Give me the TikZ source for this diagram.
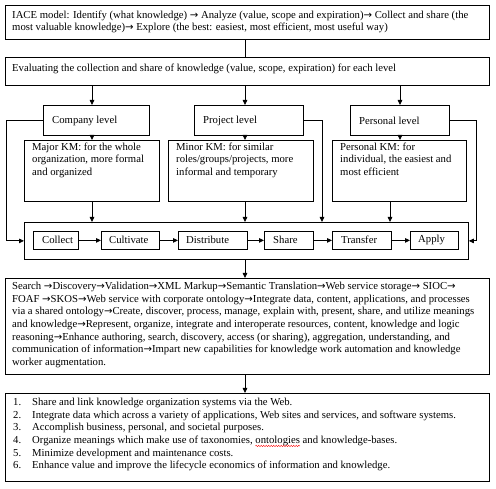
\documentclass[tikz,border=0pt]{standalone}
\usepackage{fontspec}
\setmainfont{Liberation Serif}
\newfontfamily\arfont{DejaVu Sans}[Scale=0.95]
\newcommand\ra{{\arfont →}}
\usetikzlibrary{arrows.meta,decorations.pathmorphing}
\newcommand\redwave[1]{\tikz[baseline=(w.base)]{\node[inner sep=0pt,outer sep=0pt](w){#1};\draw[overlay,red,line width=0.4pt,decorate,decoration={snake,amplitude=0.7pt,segment length=2.5pt}]([yshift=-2.4pt]w.base west)--([yshift=-2.4pt]w.base east);}}
\begin{document}
\begin{tikzpicture}[x=1pt,y=-1pt,
  box/.style={draw, line width=0.8pt, inner sep=0pt, anchor=north west},
  txt/.style={inner sep=0pt, align=left, font=\fontsize{10.7}{12.65}\selectfont},
  arr/.style={-{Triangle[length=5pt,width=4.5pt]}, line width=0.8pt},
  lin/.style={line width=0.8pt}]
\useasboundingbox (0,0) rectangle (496,489);
\fill[white] (0,0) rectangle (496,489);
% boxes
\node[box, minimum width=484pt, minimum height=34pt] (b1) at (5,5) {};
\node[box, minimum width=484pt, minimum height=28pt] (b2) at (5,57) {};
\node[box, minimum width=106pt, minimum height=30pt] (comp) at (43,105) {};
\node[box, minimum width=109pt, minimum height=30pt] (proj) at (194,105) {};
\node[box, minimum width=99pt, minimum height=30pt] (pers) at (350,105) {};
\node[box, minimum width=135pt, minimum height=61pt] (major) at (24,140) {};
\node[box, minimum width=145pt, minimum height=61pt] (minor) at (168,140) {};
\node[box, minimum width=134pt, minimum height=61pt] (perskm) at (332,140) {};
\node[box, minimum width=444pt, minimum height=37pt] (proc) at (24,222) {};
\node[box, minimum width=45pt, minimum height=18pt] (collect) at (33,231) {};
\node[box, minimum width=58pt, minimum height=18pt] (cult) at (101,231) {};
\node[box, minimum width=69pt, minimum height=18pt] (dist) at (178,231) {};
\node[box, minimum width=49pt, minimum height=18pt] (share) at (264,231) {};
\node[box, minimum width=59pt, minimum height=18pt] (trans) at (332,231) {};
\node[box, minimum width=48pt, minimum height=18pt] (apply) at (410,231) {};
\node[box, minimum width=484pt, minimum height=96pt] (big) at (5,278) {};
\node[box, minimum width=484pt, minimum height=88pt] (list) at (5,393) {};
% texts
\node[txt, anchor=west] (t1) at (12,22) {IACE model: Identify (what knowledge) \ra{} Analyze (value, scope and expiration)\ra{} Collect and share (the\\most valuable knowledge)\ra{} Explore (the best: easiest, most efficient, most useful way)};
\node[txt, anchor=west] (t2) at (12,69) {Evaluating the collection and share of knowledge (value, scope, expiration) for each level};
\node[txt, anchor=west] (tc) at (52,121) {Company level};
\node[txt, anchor=west] (tp) at (203,121) {Project level};
\node[txt, anchor=west] (tq) at (359,121) {Personal level};
\node[txt, anchor=north west] (tma) at (32,142.5) {Major KM: for the whole\\organization, more formal\\and organized};
\node[txt, anchor=north west] (tmi) at (176,142.5) {Minor KM: for similar\\roles/groups/projects, more\\informal and temporary};
\node[txt, anchor=north west] (tpe) at (340,142.5) {Personal KM: for\\individual, the easiest and\\most efficient};
\node[txt, anchor=west] (x1) at (42,240) {Collect};
\node[txt, anchor=west] (x2) at (109,240) {Cultivate};
\node[txt, anchor=west] (x3) at (186,240) {Distribute};
\node[txt, anchor=west] (x4) at (273,240) {Share};
\node[txt, anchor=west] (x5) at (341,240) {Transfer};
\node[txt, anchor=west] (x6) at (418,240) {Apply};
\node[txt, anchor=north west] (tb) at (12,282) {Search \ra{}Discovery\ra{}Validation\ra{}XML Markup\ra{}Semantic Translation\ra{}Web service storage\ra{} SIOC\ra\\
FOAF \ra{}SKOS\ra{}Web service with corporate ontology\ra{}Integrate data, content, applications, and processes\\
via a shared ontology\ra{}Create, discover, process, manage, explain with, present, share, and utilize meanings\\
and knowledge\ra{}Represent, organize, integrate and interoperate resources, content, knowledge and logic\\
reasoning\ra{}Enhance authoring, search, discovery, access (or sharing), aggregation, understanding, and\\
communication of information\ra{}Impart new capabilities for knowledge work automation and knowledge\\
worker augmentation.};
\node[txt, anchor=north west] (tl) at (13,398) {\makebox[19pt][l]{1.}Share and link knowledge organization systems via the Web.\\
\makebox[19pt][l]{2.}Integrate data which across a variety of applications, Web sites and services, and software systems.\\
\makebox[19pt][l]{3.}Accomplish business, personal, and societal purposes.\\
\makebox[19pt][l]{4.}Organize meanings which make use of taxonomies, \redwave{ontologies} and knowledge-bases.\\
\makebox[19pt][l]{5.}Minimize development and maintenance costs.\\
\makebox[19pt][l]{6.}Enhance value and improve the lifecycle economics of information and knowledge.};
% connectors
\coordinate (cx) at (245,0);
\coordinate (c1) at (92,0);
\coordinate (c3) at (400,0);
\coordinate (c4) at (390,0);
\coordinate (lx) at (6,0);
\coordinate (px) at (322,0);
\coordinate (rx) at (476,0);
\draw[lin] (b1.south -| cx) -- (b2.north -| cx);
\draw[arr] (b2.south -| c1) -- (comp.north -| c1);
\draw[arr] (b2.south -| cx) -- (proj.north -| cx);
\draw[arr] (b2.south -| c3) -- (pers.north -| c3);
\draw[arr] (comp.south -| c1) -- (major.north -| c1);
\draw[arr] (proj.south -| cx) -- (minor.north -| cx);
\draw[arr] (pers.south -| c3) -- (perskm.north -| c3);
\draw[arr] (major.south -| c1) -- (proc.north -| c1);
\draw[arr] (minor.south -| cx) -- (proc.north -| cx);
\draw[arr] (perskm.south -| c4) -- (proc.north -| c4);
\draw[arr] (comp.west) -- (comp.west -| lx) |- (proc.west);
\draw[arr] (proj.east) -| (proc.north -| px);
\draw[arr] (pers.east) -- (pers.east -| rx) |- (proc.east);
\draw[arr] (collect.east) -- (cult.west);
\draw[arr] (cult.east) -- (dist.west);
\draw[arr] (dist.east) -- (share.west);
\draw[arr] (share.east) -- (trans.west);
\draw[arr] (trans.east) -- (apply.west);
\draw[arr] (proc.south -| cx) -- (big.north -| cx);
\draw[arr] (big.south -| cx) -- (list.north -| cx);
\end{tikzpicture}
\end{document}
